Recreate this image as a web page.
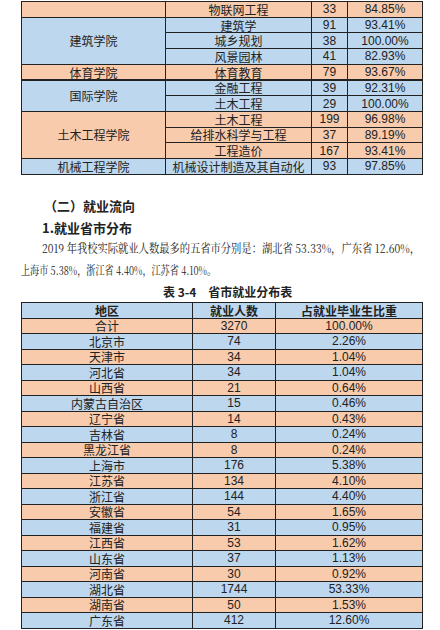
<!DOCTYPE html>
<html><head><meta charset="utf-8">
<script src="https://cdn.jsdelivr.net/npm/chart.js@4"></script>
<style>
body{margin:0;width:440px;height:630px;background:#fff;position:relative;overflow:hidden;font-family:"Noto Sans CJK SC",sans-serif;color:#222}
.c{position:absolute;box-sizing:border-box;border:1px solid #222;display:flex;align-items:center;justify-content:center;font-size:12px;white-space:nowrap}
.n{font-family:"Liberation Sans",Arial,sans-serif}
.t{position:absolute;white-space:nowrap;transform-origin:0 0}
</style></head><body>
<script>
const colleges=[["",1,"o"],["建筑学院",3,"b"],["体育学院",1,"o"],["国际学院",2,"b"],["土木工程学院",3,"o"],["机械工程学院",1,"b"]];
const majors=["物联网工程","建筑学","城乡规划","风景园林","体育教育","金融工程","土木工程","土木工程","给排水科学与工程","工程造价","机械设计制造及其自动化"];
const majorCounts=[33,91,38,41,79,39,29,199,37,167,93];
const majorRates=["84.85%","93.41%","100.00%","82.93%","93.67%","92.31%","100.00%","96.98%","89.19%","93.41%","97.85%"];
const regions=["合计","北京市","天津市","河北省","山西省","内蒙古自治区","辽宁省","吉林省","黑龙江省","上海市","江苏省","浙江省","安徽省","福建省","江西省","山东省","河南省","湖北省","湖南省","广东省"];
const regionCounts=[3270,74,34,34,21,15,14,8,8,176,134,144,54,31,53,37,30,1744,50,412];
const regionRates=["100.00%","2.26%","1.04%","1.04%","0.64%","0.46%","0.43%","0.24%","0.24%","5.38%","4.10%","4.40%","1.65%","0.95%","1.62%","1.13%","0.92%","53.33%","1.53%","12.60%"];
const O="#f8cbad",B="#bdd7ee";
function cell(x,y,w,h,txt,bg,cls,extra){const d=document.createElement('div');d.className='c '+(cls||'');d.style.cssText=`left:${x}px;top:${y}px;width:${w+1}px;height:${h+1}px;background:${bg};${extra||''}`;d.textContent=txt;document.body.appendChild(d);}
const y0=1,rh=15.7;
let r=0;
colleges.forEach(([name,span,c])=>{
  const bg=c=="o"?O:B;
  cell(21,y0+r*rh,144,span*rh,name,bg);
  for(let i=0;i<span;i++){const k=r+i;const y=y0+k*rh;
    cell(165,y,146,rh,majors[k],bg);
    cell(311,y,36,rh,majorCounts[k],bg,'n');
    cell(347,y,75,rh,majorRates[k],bg,'n');}
  r+=span;
});
function text(x,y,s,css,fitW){const d=document.createElement('div');d.className='t';d.style.cssText=`left:${x}px;top:${y}px;${css}`;d.textContent=s;document.body.appendChild(d);
  if(fitW){const w=d.getBoundingClientRect().width;d.style.transform=`scaleX(${fitW/w})`;}}
const serif="font-size:12px;font-family:'Noto Serif CJK SC','Noto Sans CJK SC',serif";
text(44,196,"（二）就业流向","font-size:13px;font-weight:bold");
text(42,218,"1.就业省市分布","font-size:13px;font-weight:bold");
text(42,239,"2019 年我校实际就业人数最多的五省市分别是：湖北省 53.33%，广东省 12.60%，",serif,378);
text(21,261,"上海市 5.38%，浙江省 4.40%，江苏省 4.10%。",serif,195);
text(163,283,"表 3-4　省市就业分布表","font-size:12px;font-weight:bold");
const t2=302,h2=15.5;
cell(21,t2,171,h2,"地区",B,'','font-weight:bold');
cell(192,t2,83,h2,"就业人数",B,'','font-weight:bold');
cell(275,t2,147,h2,"占就业毕业生比重",B,'','font-weight:bold');
regions.forEach((g,i)=>{const y=t2+(i+1)*h2;const bg=i%2==0?O:B;
  cell(21,y,171,h2,g,bg);cell(192,y,83,h2,regionCounts[i],bg,'n');cell(275,y,147,h2,regionRates[i],bg,'n');});
</script>
</body></html>
